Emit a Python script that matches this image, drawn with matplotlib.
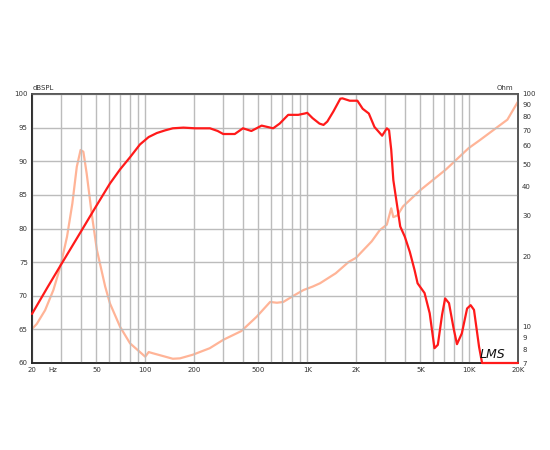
import numpy as np
import matplotlib
matplotlib.use('Agg')
import matplotlib.pyplot as plt
from matplotlib.ticker import FixedLocator, NullLocator, NullFormatter

# SPL response (Hz, dB)
spl_freq = [20, 25, 30, 40, 50, 60.6, 70, 80.6, 92.8, 105, 118, 133, 148, 172, 203, 251,
            280, 303, 357, 401, 452, 523, 616, 676, 763, 880, 966, 1000, 1080, 1190,
            1260, 1330, 1450, 1600, 1650, 1830, 2040, 2200, 2400, 2600, 2900, 3100, 3200,
            3300, 3400, 3750, 4000, 4300, 4600, 4800, 5300, 5700, 6100, 6400, 6800, 7100,
            7500, 8000, 8400, 9000, 9700, 10200, 10700, 11500, 12000, 15000, 20000]
spl_db = [67.3, 71.3, 74.5, 79.5, 83.4, 86.7, 88.8, 90.6, 92.5, 93.6, 94.2, 94.6, 94.9,
          95.0, 94.9, 94.9, 94.5, 94.05, 94.05, 94.9, 94.5, 95.3, 94.9, 95.6, 96.9, 96.9,
          97.1, 97.2, 96.4, 95.6, 95.4, 95.9, 97.4, 99.3, 99.35, 99.0, 99.0, 97.8, 97.1,
          95.1, 93.8, 94.9, 94.6, 91.7, 87.2, 80.3, 78.8, 76.5, 73.8, 71.85, 70.4, 67.4,
          62.2, 62.7, 67.2, 69.6, 68.9, 65.2, 62.8, 64.4, 68.1, 68.6, 67.9, 62.4, 60.0,
          60.0, 60.0]

# Impedance (Hz, Ohm)
imp_freq = [20, 21.4, 24.1, 27.1, 29.9, 32.9, 35.5, 37.8, 39.9, 41.5, 43.5, 46.7, 50.3,
            56.6, 60.6, 70, 80.6, 100, 105, 112, 148, 164, 197, 250, 303, 392, 488, 590,
            650, 712, 821, 948, 1080, 1200, 1500, 1800, 2000, 2500, 2800, 3100, 3300,
            3400, 3600, 3900, 5000, 7200, 9900, 11600, 17200, 20000]
imp_ohm = [9.8, 10.3, 11.8, 14.4, 18.1, 24.4, 33.9, 48.7, 57.5, 56.5, 45.6, 30.7, 21.4,
           14.9, 12.6, 10.0, 8.5, 7.45, 7.8, 7.7, 7.3, 7.33, 7.6, 8.1, 8.8, 9.6, 11.07,
           12.8, 12.7, 12.8, 13.6, 14.4, 14.9, 15.4, 17.0, 19.0, 19.8, 23.3, 26.0, 27.5,
           32.3, 29.6, 30.1, 32.9, 38.7, 47.5, 58.5, 63.3, 77.6, 92.8]

x_ticks = [20, 50, 100, 200, 500, 1000, 2000, 5000, 10000, 20000]
x_labels = ['20', '50', '100', '200', '500', '1K', '2K', '5K', '10K', '20K']
db_ticks = [60, 65, 70, 75, 80, 85, 90, 95, 100]
ohm_ticks = [7, 8, 9, 10, 20, 30, 40, 50, 60, 70, 80, 90, 100]

fig = plt.figure(figsize=(5.5, 4.5), dpi=100)
ax = fig.add_axes([32/550, 87/450, 486/550, 269/450])

ax.set_xscale('log')
ax.set_xlim(20, 20000)
ax.set_ylim(60, 100)

# grid
grid_x = [m * 10**e for e in range(1, 5) for m in range(1, 10) if 20 <= m * 10**e <= 20000]
for g in grid_x:
    ax.axvline(g, color='#bcbcbc', lw=1.0, zorder=1)
for g in db_ticks:
    ax.axhline(g, color='#bcbcbc', lw=1.0, zorder=1)

ax.xaxis.set_major_locator(FixedLocator(x_ticks))
ax.xaxis.set_minor_locator(NullLocator())
ax.xaxis.set_minor_formatter(NullFormatter())
ax.set_xticklabels(x_labels)
ax.set_yticks(db_ticks)
ax.tick_params(axis='both', length=0, labelsize=5, colors='#333333', pad=3)

ax2 = ax.twinx()
ax2.set_yscale('log')
ax2.set_ylim(7, 100)
ax2.yaxis.set_major_locator(FixedLocator(ohm_ticks))
ax2.yaxis.set_minor_locator(NullLocator())
ax2.set_yticklabels([str(t) for t in ohm_ticks])
ax2.tick_params(axis='y', length=0, labelsize=5, colors='#333333', pad=3)

ax2.plot(imp_freq, imp_ohm, color='#ffb497', lw=1.6, zorder=3,
         solid_joinstyle='round', solid_capstyle='round')
ax.set_zorder(ax2.get_zorder() + 1)
ax.patch.set_visible(False)
ax.plot(spl_freq, spl_db, color='#ff1a1a', lw=1.6, zorder=4, clip_on=False,
        solid_joinstyle='round', solid_capstyle='round')

for a in (ax, ax2):
    for s in a.spines.values():
        s.set_color('#555555')
        s.set_linewidth(1.2)
ax.spines['bottom'].set_color('#222222')
ax.spines['left'].set_color('#222222')

fig.text(33/550, 1 - 88/450, 'dBSPL', fontsize=5, color='#333333', va='center')
fig.text(497/550, 1 - 88/450, 'Ohm', fontsize=5, color='#333333', va='center')
fig.text(48/550, 1 - 370/450, 'Hz', fontsize=5, color='#333333', va='center')
fig.text(480/550, 1 - 355/450, 'LMS', fontsize=9, style='italic', color='#111111',
         va='center')

fig.savefig('out.png', dpi=100)
